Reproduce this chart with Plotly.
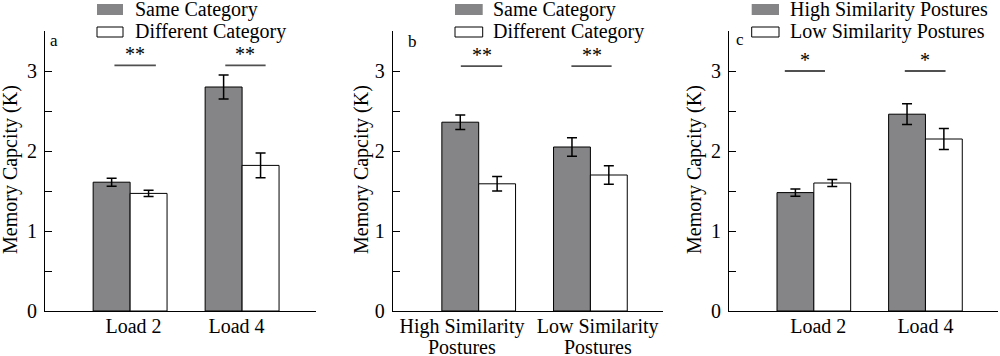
import plotly.graph_objects as go

# ---------------- data ----------------
a_categories = ["Load 2", "Load 4"]
a_same = [1.61, 2.80]
a_same_err = [0.05, 0.15]
a_diff = [1.47, 1.82]
a_diff_err = [0.04, 0.155]
a_series = ["Same Category", "Different Category"]
a_sig = ["**", "**"]
a_sig_level = [3.07, 3.07]

b_categories = ["High Similarity|Postures", "Low Similarity|Postures"]
b_same = [2.36, 2.05]
b_same_err = [0.09, 0.115]
b_diff = [1.59, 1.70]
b_diff_err = [0.09, 0.115]
b_series = ["Same Category", "Different Category"]
b_sig = ["**", "**"]
b_sig_level = [3.06, 3.06]

c_categories = ["Load 2", "Load 4"]
c_high = [1.48, 2.46]
c_high_err = [0.045, 0.13]
c_low = [1.60, 2.15]
c_low_err = [0.045, 0.13]
c_series = ["High Similarity Postures", "Low Similarity Postures"]
c_sig = ["*", "*"]
c_sig_level = [3.0, 3.0]

y_ticks = [0, 1, 2, 3]
panel_labels = ["a", "b", "c"]

# ---------------- style ----------------
W, H = 1000, 356
GRAY = "#858486"
FONT = "Liberation Serif, Times New Roman, serif"

def px_x(p):
    return p / W

def px_y(p):
    return (H - p) / H

panels = [
    dict(cats=a_categories, s1=a_same, e1=a_same_err, s2=a_diff, e2=a_diff_err,
         names=a_series, sig=a_sig, lvl=a_sig_level,
         dom=(45, 316), xr=[-0.76, 1.66], lab_off=[0.03, -0.05],
         sigx=[(-0.14, 0.23), (-0.15, 0.21)],
         leg=(97, 123, 133), title_x=11, lab=(54, 40)),
    dict(cats=b_categories, s1=b_same, e1=b_same_err, s2=b_diff, e2=b_diff_err,
         names=b_series, sig=b_sig, lvl=b_sig_level,
         dom=(392.7, 663), xr=[-0.77, 1.65], lab_off=[-0.15, 0.065],
         sigx=[(-0.16, 0.21), (-0.17, 0.19)],
         leg=(455, 482.7, 490.7), title_x=362, lab=(412, 42)),
    dict(cats=c_categories, s1=c_high, e1=c_high_err, s2=c_low, e2=c_low_err,
         names=c_series, sig=c_sig, lvl=c_sig_level,
         dom=(729, 998), xr=[-0.76, 1.65], lab_off=[0.04, 0.0],
         sigx=[(-0.26, 0.10), (-0.185, 0.18)],
         leg=(751.7, 779, 788.3), title_x=695, lab=(740, 39)),
]

fig = go.Figure()
shapes = []
annotations = []
layout = {}

for i, p in enumerate(panels):
    k = "" if i == 0 else str(i + 1)
    xa, ya = "x" + k, "y" + k
    xs = list(range(len(p["cats"])))
    tick_pos = [x + o for x, o in zip(xs, p["lab_off"])]
    first_lines = [c.split("|")[0] for c in p["cats"]]
    fig.add_trace(go.Bar(
        x=xs, y=p["s1"], name=p["names"][0], xaxis=xa, yaxis=ya,
        marker=dict(color=GRAY, line=dict(color="black", width=1)),
        error_y=dict(type="data", array=p["e1"], color="black", thickness=1.5, width=5),
        offsetgroup="1", showlegend=False))
    fig.add_trace(go.Bar(
        x=xs, y=p["s2"], name=p["names"][1], xaxis=xa, yaxis=ya,
        marker=dict(color="white", line=dict(color="black", width=1)),
        error_y=dict(type="data", array=p["e2"], color="black", thickness=1.5, width=5),
        offsetgroup="2", showlegend=False))

    layout["xaxis" + k] = dict(
        domain=[px_x(p["dom"][0]), px_x(p["dom"][1])], range=p["xr"],
        anchor=ya, tickvals=tick_pos, ticktext=first_lines, ticks="", tickangle=0,
        showline=True, linecolor="black", linewidth=1, showgrid=False, zeroline=False,
        tickfont=dict(family=FONT, size=20, color="black"), ticklabelstandoff=-3,
        automargin=False, fixedrange=True)
    layout["yaxis" + k] = dict(
        domain=[px_y(311), px_y(31)], range=[0, 3.5], anchor=xa,
        tickvals=y_ticks, ticks="inside", ticklen=7, tickwidth=1, tickcolor="black",
        minor=dict(dtick=0.5, ticks="inside", ticklen=7, tickwidth=1, tickcolor="black",
                   showgrid=False),
        showline=True, linecolor="black", linewidth=1, showgrid=False, zeroline=False,
        tickfont=dict(family=FONT, size=20, color="black"), ticklabelstandoff=3,
        automargin=False, fixedrange=True)

    # second lines of two-line category labels
    for j, c in enumerate(p["cats"]):
        parts = c.split("|")
        if len(parts) > 1:
            annotations.append(dict(
                x=tick_pos[j], y=px_y(347), xref=xa, yref="paper", text=parts[1],
                showarrow=False, font=dict(family=FONT, size=20, color="black"),
                yanchor="middle"))

    # significance markers
    for j, (s, lvl) in enumerate(zip(p["sig"], p["lvl"])):
        x0, x1 = j + p["sigx"][j][0], j + p["sigx"][j][1]
        shapes.append(dict(type="line", xref=xa, yref=ya, x0=x0, x1=x1, y0=lvl, y1=lvl,
                           line=dict(color="#505050", width=1.8)))
        annotations.append(dict(x=(x0 + x1) / 2, y=lvl, xref=xa, yref=ya, text=s,
                                showarrow=False, yanchor="bottom", yshift=-2,
                                font=dict(family=FONT, size=20, color="black")))

    # y axis title
    annotations.append(dict(x=px_x(p["title_x"]), y=px_y(170), xref="paper", yref="paper",
                            text="Memory Capcity (K)", textangle=-90, showarrow=False,
                            xanchor="center", yanchor="middle",
                            font=dict(family=FONT, size=20, color="black")))
    # panel label
    annotations.append(dict(x=px_x(p["lab"][0]), y=px_y(p["lab"][1]), xref="paper", yref="paper",
                            text=panel_labels[i], showarrow=False, xanchor="center",
                            yanchor="middle", font=dict(family=FONT, size=17, color="black")))

    # legend
    lx0, lx1, tx = p["leg"]
    shapes.append(dict(type="rect", xref="paper", yref="paper",
                       x0=px_x(lx0), x1=px_x(lx1), y0=px_y(15), y1=px_y(4),
                       fillcolor=GRAY, line=dict(width=0)))
    shapes.append(dict(type="rect", xref="paper", yref="paper",
                       x0=px_x(lx0), x1=px_x(lx1), y0=px_y(37), y1=px_y(27),
                       fillcolor="white", line=dict(color="black", width=1)))
    for r, yc in enumerate([10, 31]):
        annotations.append(dict(x=px_x(tx), y=px_y(yc), xref="paper", yref="paper",
                                text=p["names"][r], showarrow=False, xanchor="left",
                                yanchor="middle",
                                font=dict(family=FONT, size=20, color="black")))

fig.update_layout(
    width=W, height=H, margin=dict(l=0, r=0, t=0, b=0),
    paper_bgcolor="white", plot_bgcolor="white",
    barmode="group", bargap=0.34, bargroupgap=0,
    shapes=shapes, annotations=annotations, showlegend=False,
    **layout)

fig.write_html(
    "out.html",
    config={"displayModeBar": False},
    post_script="document.body.style.margin='0px';document.body.style.overflow='hidden';",
)
